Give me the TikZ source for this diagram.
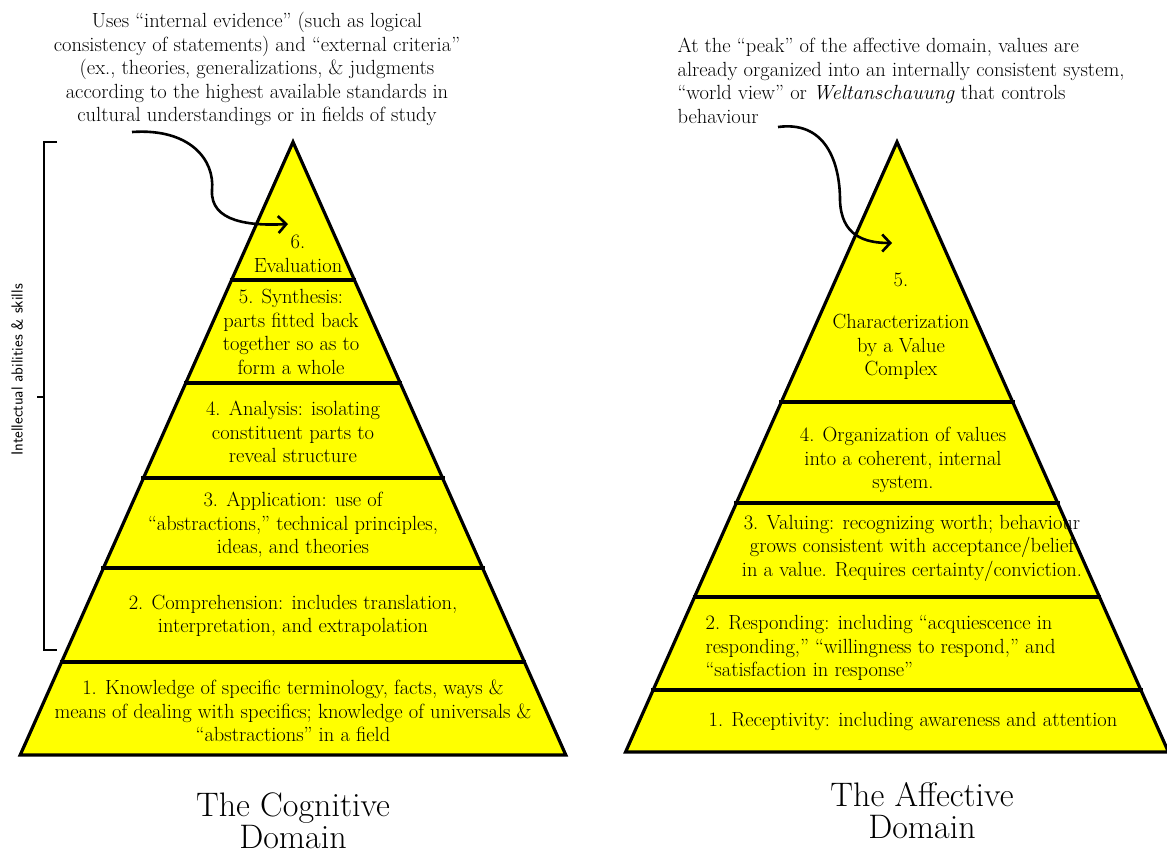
\documentclass[tikz,border=0pt]{standalone}
\usepackage{fontspec}
\usetikzlibrary{arrows,arrows.meta,positioning}
\definecolor{pyrfill}{RGB}{255,255,0}

\begin{document}
\begin{tikzpicture}[x=1pt, y=-1pt, line width=3.2pt]

        \def\ctip{293}              % horizontal position of the cognitive apex
        \def\atip{897}              % horizontal position of the affective apex
        \def\ytop{142}              % vertical position of both apexes
        \def\slope{0.445}           % half width gained per unit down
        \def\cbase{755}             % base of the cognitive pyramid
        \def\abase{752}             % base of the affective pyramid
        \tikzstyle{lvltext}=[align=center,inner sep=0pt,font=\fontsize{20.5}{23.5}\selectfont]
        \tikzstyle{note}=[inner sep=0pt,font=\fontsize{20.5}{23.5}\selectfont]
        \tikzstyle{title}=[align=center,inner sep=0pt,font=\fontsize{34}{32}\selectfont]
        \tikzset{pointer/.style={-{Straight Barb[length=8pt,width=17pt]},line width=2.6pt}}

        \useasboundingbox (0,0) rectangle (1167,855);

        % Draw the cognitive pyramid
            \fill[pyrfill] (\ctip,\ytop) -- ({\ctip-\slope*(\cbase-\ytop)},\cbase) -- ({\ctip+\slope*(\cbase-\ytop)},\cbase) -- cycle;
            \foreach \yl in {280,383,478,568,662}{
                \draw ({\ctip-\slope*(\yl-\ytop)-2},\yl) -- ({\ctip+\slope*(\yl-\ytop)+2},\yl);
            }
            \draw (\ctip,\ytop) -- ({\ctip-\slope*(\cbase-\ytop)},\cbase) -- ({\ctip+\slope*(\cbase-\ytop)},\cbase) -- cycle;

        % Draw the affective pyramid
            \fill[pyrfill] (\atip,\ytop) -- ({\atip-\slope*(\abase-\ytop)},\abase) -- ({\atip+\slope*(\abase-\ytop)},\abase) -- cycle;
            \foreach \yl in {402,503,597,690}{
                \draw ({\atip-\slope*(\yl-\ytop)-2},\yl) -- ({\atip+\slope*(\yl-\ytop)+2},\yl);
            }
            \draw (\atip,\ytop) -- ({\atip-\slope*(\abase-\ytop)},\abase) -- ({\atip+\slope*(\abase-\ytop)},\abase) -- cycle;

        % Label the cognitive levels
            \node[lvltext] (cog-6) at (298,254) {6.\\Evaluation};
            \node[lvltext] (cog-5) at (291,332) {5. Synthesis:\\parts fitted back\\together so as to\\form a whole};
            \node[lvltext] (cog-4) at (293,432) {4. Analysis: isolating\\constituent parts to\\reveal structure};
            \node[lvltext] (cog-3) at (293,525) {3. Application: use of\\``abstractions,'' technical principles,\\ideas, and theories};
            \node[lvltext] (cog-2) at (293,616) {2. Comprehension: includes translation,\\interpretation, and extrapolation};
            \node[lvltext] (cog-1) at (293,711) {1. Knowledge of specific terminology, facts, ways \&\\means of dealing with specifics; knowledge of universals \&\\``abstractions'' in a field};

        % Label the affective levels
            \node[lvltext] (aff-5) at (901,326) {5.\\[19pt]Characterization\\by a Value\\Complex};
            \node[lvltext] (aff-4) at (903,460) {4. Organization of values\\into a coherent, internal\\system.};
            \node[lvltext] (aff-3) at (912,548) {3. Valuing: recognizing worth; behaviour\\grows consistent with acceptance/belief\\in a value. Requires certainty/conviction.};
            \node[lvltext,align=left,anchor=west] (aff-2) at (704,648) {2. Responding: including ``acquiescence in\\responding,'' ``willingness to respond,'' and\\``satisfaction in response''};
            \node[lvltext] (aff-1) at (913,721) {1. Receptivity: including awareness and attention};

        % Bracket over levels 2 to 6
            \draw[line width=2.4pt] (57,142) -- (44,142) -- (44,650) -- (57,650);
            \draw[line width=2.4pt] (44,397) -- (37,397);
            \node[rotate=90,inner sep=0pt,font=\sffamily\fontsize{16}{18}\selectfont] (skills) at (17,370) {Intellectual abilities \& skills};

        % Annotations and their pointers
            \node[note,align=center] (cognote) at (257,69) {Uses ``internal evidence'' (such as logical\\consistency of statements) and ``external criteria''\\(ex., theories, generalizations, \& judgments\\according to the highest available standards in\\cultural understandings or in fields of study};
            \node[note,align=left,anchor=west] (affnote) at (676,81) {At the ``peak'' of the affective domain, values are\\already organized into an internally consistent system,\\``world view'' or \textit{Weltanschauung} that controls\\behaviour};
            \coordinate (cogfrom) at (132,132);
            \coordinate (cogto) at (288,224);
            \coordinate (afffrom) at (778,127);
            \coordinate (affto) at (892,243);
            \draw[pointer] (cogfrom) .. controls (190,128) and (215,160) .. (212,190) .. controls (210,222) and (250,226) .. (cogto);
            \draw[pointer] (afffrom) .. controls (830,120) and (840,170) .. (840,200) .. controls (841,236) and (865,243) .. (affto);

        % Domain titles
            \node[title] (cogtitle) at (293,821) {The Cognitive\\Domain};
            \node[title] (afftitle) at (922,811) {The Affective\\Domain};

\end{tikzpicture}
\end{document}
